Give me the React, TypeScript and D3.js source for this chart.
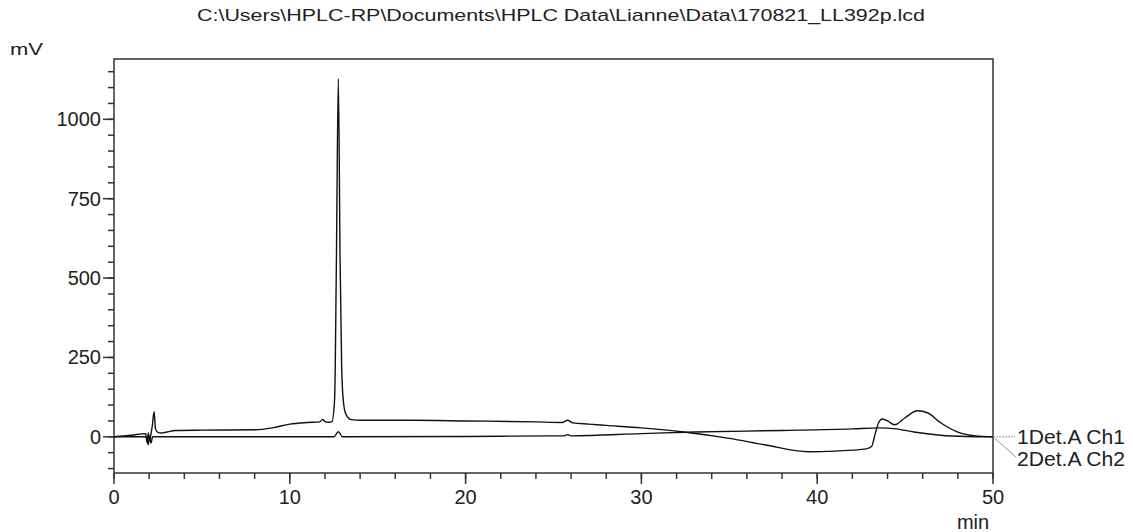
import React from 'react';
import * as d3 from 'd3';

const title = 'C:\\Users\\HPLC-RP\\Documents\\HPLC Data\\Lianne\\Data\\170821_LL392p.lcd';
const seriesNames = ['1Det.A Ch1', '2Det.A Ch2'];
const xMajorTicks = [0, 10, 20, 30, 40, 50];
const yMajorTicks = [0, 250, 500, 750, 1000];

// retention time (min) / signal (mV)
const ch1Time = [0, 1, 1.8, 1.88, 1.95, 2.02, 2.1, 2.18, 2.28, 2.36, 2.5, 2.7, 3.0, 3.5, 5, 8, 9, 10, 11, 11.7, 11.87, 12.0, 12.2, 12.4, 12.55, 12.65, 12.76, 12.86, 12.95, 13.05, 13.2, 13.5, 14, 17, 20, 24, 25.5, 25.8, 26.1, 27, 28, 30, 32.4, 35, 37, 39.5, 41, 42.8, 43.1, 43.3, 43.5, 43.7, 44.0, 44.4, 45.0, 45.7, 46.3, 47, 48, 49, 50];
const ch1Value = [0, 5, 10, -18, 12, -12, 8, 35, 79, 25, 14, 12, 15, 20, 21, 22, 28, 40, 45, 47, 55, 48, 46, 48, 120, 550, 1128, 560, 220, 110, 70, 54, 52, 52, 50, 47, 45, 52, 44, 40, 36, 28, 15, -5, -25, -47, -45, -38, -30, 10, 45, 56, 50, 38, 60, 82, 75, 45, 15, 3, 0];
const ch2Time = [0, 1.8, 1.88, 1.95, 2.02, 2.1, 2.2, 2.4, 5, 12.5, 12.76, 13.0, 20, 25, 25.6, 25.8, 26.0, 30, 33, 38, 42, 43.5, 44.5, 45.5, 47, 48.5, 50];
const ch2Value = [0, 0, -8, -25, 2, -20, 0, 0, 0, 0, 16, 0, 1, 3, 3, 7, 3, 10, 15, 20, 25, 28, 25, 15, 5, 1, 0];

const W = 1133;
const H = 532;
const left = 114;
const right = 993;
const top = 59;
const bottom = 473;
const font = '"Liberation Sans", Arial, sans-serif';
const axisColor = '#333';

export default function App() {
  const x = d3.scaleLinear().domain([0, 50]).range([left, right]);
  const y = d3.scaleLinear().domain([-114, 1190]).range([bottom, top]);

  const line = d3.line<[number, number]>()
    .x(d => x(d[0]))
    .y(d => y(d[1]))
    .curve(d3.curveMonotoneX);

  const ch1 = ch1Time.map((t, i) => [t, ch1Value[i]] as [number, number]);
  const ch2 = ch2Time.map((t, i) => [t, ch2Value[i]] as [number, number]);

  const xMinor = d3.range(0, 51, 2);
  const yMinor = d3.range(-100, 1151, 50);
  const y0 = y(0);

  return (
    <svg width={W} height={H} style={{ position: 'absolute', left: 0, top: 0, background: '#fff' }}
      fontFamily={font}>
      <text x={197} y={21} fontSize={17} fill="#222" textLength={728} lengthAdjust="spacingAndGlyphs">{title}</text>
      <text x={10} y={55} fontSize={17} fill="#222" textLength={33} lengthAdjust="spacingAndGlyphs">mV</text>

      {/* frame */}
      <rect x={left} y={top} width={right - left} height={bottom - top} fill="none" stroke={axisColor} strokeWidth={1.5} />

      {yMinor.map(v => (
        <line key={'ym' + v} x1={left - 6} x2={left} y1={y(v)} y2={y(v)} stroke={axisColor} strokeWidth={1.5} />
      ))}
      {yMajorTicks.map(v => (
        <g key={'yM' + v}>
          <line x1={left - 11} x2={left} y1={y(v)} y2={y(v)} stroke={axisColor} strokeWidth={1.5} />
          <text x={left - 13} y={y(v)} dy="0.35em" textAnchor="end" fontSize={20} fill="#222">{v}</text>
        </g>
      ))}

      {xMinor.map(v => (
        <line key={'xm' + v} x1={x(v)} x2={x(v)} y1={bottom} y2={bottom + 6} stroke={axisColor} strokeWidth={1.5} />
      ))}
      {xMajorTicks.map(v => (
        <g key={'xM' + v}>
          <line x1={x(v)} x2={x(v)} y1={bottom} y2={bottom + 11} stroke={axisColor} strokeWidth={1.5} />
          <text x={x(v)} y={497} dy="0.35em" textAnchor="middle" fontSize={20} fill="#222">{v}</text>
        </g>
      ))}
      <text x={973} y={522} dy="0.35em" textAnchor="middle" fontSize={20} fill="#222">min</text>

      <path d={line(ch2) ?? ''} fill="none" stroke="#111" strokeWidth={1.4} />
      <path d={line(ch1) ?? ''} fill="none" stroke="#111" strokeWidth={1.4} />

      {/* legend leaders */}
      <line x1={right} x2={1015} y1={y0} y2={y0} stroke="#999" strokeWidth={1} strokeDasharray="2,1" />
      <line x1={right} x2={1016} y1={y0} y2={457} stroke="#999" strokeWidth={1} />
      <text x={1017} y={437} dy="0.35em" fontSize={20} fill="#222" textLength={108} lengthAdjust="spacingAndGlyphs">{seriesNames[0]}</text>
      <text x={1017} y={459} dy="0.35em" fontSize={20} fill="#222" textLength={108} lengthAdjust="spacingAndGlyphs">{seriesNames[1]}</text>
    </svg>
  );
}
